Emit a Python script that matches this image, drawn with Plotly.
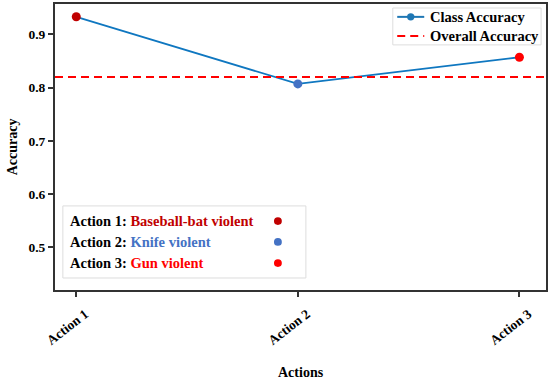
import plotly.graph_objects as go

actions = ["Action 1", "Action 2", "Action 3"]
class_accuracy = [0.933, 0.807, 0.857]
point_colors = ["#C00000", "#4472C4", "#FF0000"]
overall_accuracy = 0.82
action_names = ["Baseball-bat violent", "Knife violent", "Gun violent"]
legend_labels = ["Class Accuracy", "Overall Accuracy"]

FONT = "Liberation Serif"
DASH = "8px,5px"
LINE_BLUE = "#1F77B4"
fig = go.Figure()

fig.add_trace(go.Scatter(
    x=actions, y=class_accuracy, mode="lines+markers", name=legend_labels[0],
    line=dict(color="#0F77C0", width=1.8),
    marker=dict(color=point_colors, size=9),
    showlegend=False, hoverinfo="skip"))

fig.add_hline(y=overall_accuracy, line=dict(color="#FF0000", width=2, dash=DASH))

def box(x0, x1, y0, y1):
    fig.add_shape(type="rect", xref="paper", yref="paper", x0=x0, x1=x1, y0=y0, y1=y1,
                  line=dict(color="#DDDDDD", width=1), fillcolor="white", layer="above")

def dot(xc, yc, col, rx=0.008, ry=0.0135):
    fig.add_shape(type="circle", xref="paper", yref="paper",
                  x0=xc - rx, x1=xc + rx, y0=yc - ry, y1=yc + ry,
                  line=dict(width=0), fillcolor=col, layer="above")

# top-right legend (drawn manually for compact spacing)
box(0.688, 0.990, 0.857, 0.986)
leg_y = [0.955, 0.888]
fig.add_shape(type="line", xref="paper", yref="paper", x0=0.697, x1=0.752,
              y0=leg_y[0], y1=leg_y[0], line=dict(color=LINE_BLUE, width=2), layer="above")
dot(0.7245, leg_y[0], LINE_BLUE, rx=0.0075, ry=0.0128)
fig.add_shape(type="line", xref="paper", yref="paper", x0=0.697, x1=0.752,
              y0=leg_y[1], y1=leg_y[1], line=dict(color="#FF0000", width=2, dash=DASH),
              layer="above")
for lab, yy in zip(legend_labels, leg_y):
    fig.add_annotation(xref="paper", yref="paper", x=0.760, y=yy,
                       xanchor="left", yanchor="middle", showarrow=False,
                       text=f"<b>{lab}</b>", font=dict(family=FONT, size=14.5, color="black"))

# bottom-left action legend box
box(0.016, 0.511, 0.042, 0.294)
ys = [0.241, 0.168, 0.094]
for i, (name, col) in enumerate(zip(action_names, point_colors)):
    fig.add_annotation(xref="paper", yref="paper", x=0.027, y=ys[i],
                       xanchor="left", yanchor="middle", showarrow=False,
                       text=f"<b>{actions[i]}: <span style='color:{col}'>{name}</span></b>",
                       font=dict(family=FONT, size=14.5, color="black"))
    dot(0.454, ys[i], col)

# axis titles
fig.add_annotation(xref="paper", yref="paper", x=0.5, y=-0.287,
                   xanchor="center", yanchor="middle", showarrow=False,
                   text="<b>Actions</b>", font=dict(family=FONT, size=14, color="black"))
fig.add_annotation(xref="paper", yref="paper", x=-0.087, y=0.5,
                   xanchor="center", yanchor="middle", showarrow=False, textangle=-90,
                   text="<b>Accuracy</b>", font=dict(family=FONT, size=14, color="black"))

fig.update_layout(
    width=550, height=380,
    margin=dict(l=55, r=4, t=4, b=90, autoexpand=False),
    plot_bgcolor="white", paper_bgcolor="white",
    font=dict(family=FONT, size=13, color="black"),
    showlegend=False,
    xaxis=dict(
        range=[-0.096, 2.12], showline=True, linecolor="#333333", linewidth=2,
        mirror=True, ticks="outside", ticklen=5, tickwidth=1.5, tickcolor="#333333",
        tickangle=-38, showgrid=False, zeroline=False, automargin=False,
        ticklabelshift=9, ticklabelstandoff=4,
        tickprefix="<b>", ticksuffix="</b>",
        tickfont=dict(family=FONT, size=13.5, color="black")),
    yaxis=dict(
        range=[0.42, 0.957], showline=True, linecolor="#333333", linewidth=2,
        mirror=True, ticks="outside", ticklen=5, tickwidth=1.5, tickcolor="#333333",
        dtick=0.1, tick0=0.5, tickformat=".1f", showgrid=False, zeroline=False,
        automargin=False, tickprefix="<b>", ticksuffix="</b>",
        tickfont=dict(family=FONT, size=13.5, color="black")),
)

fig.write_html("out.html", config={"displayModeBar": False},
               post_script="document.body.style.margin='0';document.body.style.overflow='hidden';")
